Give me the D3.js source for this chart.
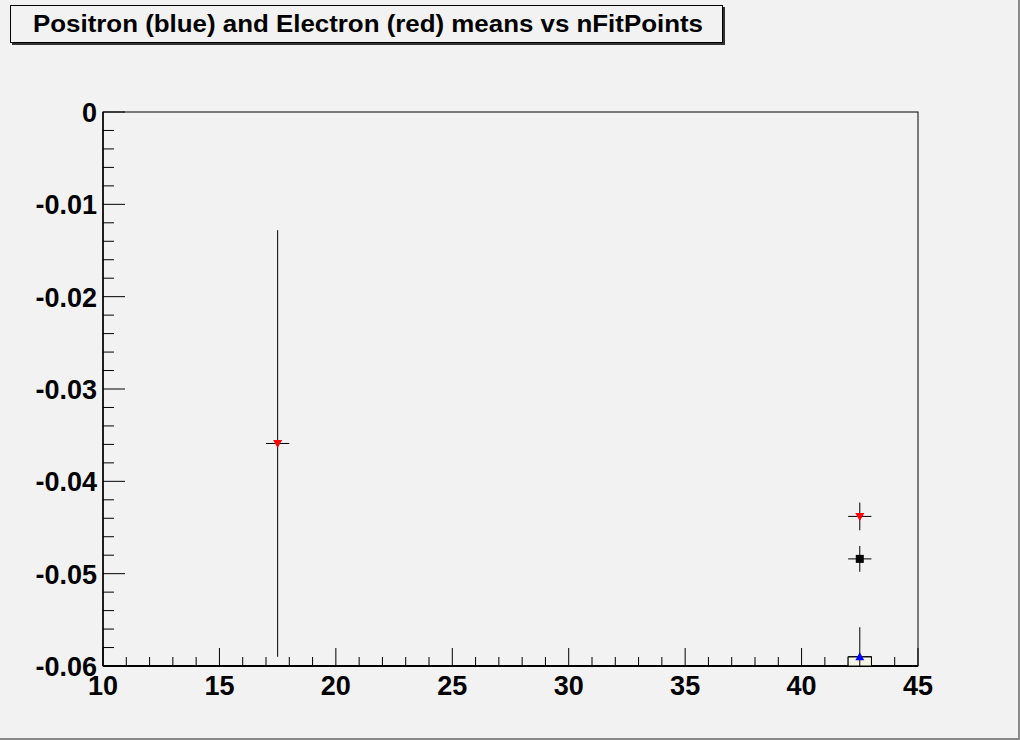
<!DOCTYPE html>
<html>
<head>
<meta charset="utf-8">
<script src="https://cdn.jsdelivr.net/npm/d3@7"></script>
<style>
  body { margin: 0; background: #f2f2f2; }
  svg { display: block; }
  text { font-family: "Liberation Sans", Arial, sans-serif; font-weight: bold; }
</style>
</head>
<body>
<div id="chart"></div>
<script>
// electron (red) means
const electronX = [17.5, 42.5];
const electronY = [-0.0359, -0.0438];
const electronErr = [0.0231, 0.0015];
// positron (blue) means
const positronX = [42.5];
const positronY = [-0.0590];
const positronErr = [0.0032];
// combined (black)
const combinedX = [42.5];
const combinedY = [-0.0484];
const combinedErr = [0.0014];
const xErr = 0.5;

const xTicks = [10, 15, 20, 25, 30, 35, 40, 45];
const yTicks = [0, -0.01, -0.02, -0.03, -0.04, -0.05, -0.06];

var svgwidth = 1020;
var svgheight = 740;
var padL = 103, padT = 112, padR = 918, padB = 666;

var svg = d3.select('#chart')
    .append('svg')
    .attr('width', svgwidth)
    .attr('height', svgheight);

// canvas background + border
svg.append('rect').attr('width', svgwidth).attr('height', svgheight).attr('fill', '#f2f2f2');
svg.append('line').attr('x1', 1019).attr('x2', 1019).attr('y1', 0).attr('y2', 740).attr('stroke', '#8a8a8a').attr('stroke-width', 2);
svg.append('line').attr('x1', 0).attr('x2', 1020).attr('y1', 739).attr('y2', 739).attr('stroke', '#8a8a8a').attr('stroke-width', 2);

// title box
svg.append('rect').attr('x', 12).attr('y', 7).attr('width', 713).attr('height', 38).attr('fill', '#333');
svg.append('rect').attr('x', 10.5).attr('y', 5.5).attr('width', 712).attr('height', 37)
    .attr('fill', '#f2f2f2').attr('stroke', '#000').attr('stroke-width', 1);
svg.append('text')
    .attr('x', 33).attr('y', 32)
    .attr('textLength', 670)
    .attr('lengthAdjust', 'spacingAndGlyphs')
    .style('font-size', '23px')
    .text('Positron (blue) and Electron (red) means vs nFitPoints');

var xscale = d3.scaleLinear().domain([10, 45]).range([padL, padR]);
var yscale = d3.scaleLinear().domain([-0.06, 0]).range([padB, padT]);

var g = svg.append('g');

// frame
g.append('rect')
    .attr('x', padL).attr('y', padT)
    .attr('width', padR - padL).attr('height', padB - padT)
    .attr('fill', 'none').attr('stroke', '#000').attr('stroke-width', 1);

// x axis ticks (drawn inward)
var xMinor = d3.range(10, 45.01, 1);
g.append('g').selectAll('line')
    .data(xMinor)
    .join('line')
    .attr('x1', d => xscale(d)).attr('x2', d => xscale(d))
    .attr('y1', padB)
    .attr('y2', d => padB - (xTicks.includes(d) ? 18 : 9))
    .attr('stroke', '#000');
g.append('line').attr('x1', padL).attr('x2', padR).attr('y1', padB).attr('y2', padB)
    .attr('stroke', '#000').attr('stroke-width', 2);
g.append('g').selectAll('text')
    .data(xTicks)
    .join('text')
    .attr('x', d => xscale(d))
    .attr('y', 695)
    .attr('text-anchor', 'middle')
    .style('font-size', '27px')
    .text(d => d);

// y axis ticks
var yMinor = d3.range(0, 31).map(i => -i * 0.002);
g.append('g').selectAll('line')
    .data(yMinor)
    .join('line')
    .attr('y1', d => yscale(d)).attr('y2', d => yscale(d))
    .attr('x1', padL)
    .attr('x2', (d, i) => padL + (i % 5 === 0 ? 22 : 11))
    .attr('stroke', '#000');
g.append('line').attr('x1', padL).attr('x2', padL).attr('y1', padT).attr('y2', padB)
    .attr('stroke', '#000').attr('stroke-width', 1.5);
g.append('g').selectAll('text')
    .data(yTicks)
    .join('text')
    .attr('x', 97)
    .attr('y', d => yscale(d) + 10)
    .attr('text-anchor', 'end')
    .style('font-size', '27px')
    .text(d => d === 0 ? '0' : d3.format('.2f')(d).replace('\u2212', '-'));

// clip for points
svg.append('clipPath').attr('id', 'frame')
    .append('rect').attr('x', padL).attr('y', padT).attr('width', padR - padL).attr('height', padB - padT);
var pts = svg.append('g').attr('clip-path', 'url(#frame)');

// box under blue point
pts.selectAll('rect.box')
    .data(positronX)
    .join('rect')
    .attr('class', 'box')
    .attr('x', d => xscale(d - xErr))
    .attr('y', (d, i) => yscale(positronY[i]))
    .attr('width', xscale(10 + 2 * xErr) - xscale(10))
    .attr('height', (d, i) => yscale(-0.06) - yscale(positronY[i]))
    .attr('fill', '#f5f5e6').attr('stroke', '#000');

function drawSeries(xs, ys, errs, color, shape) {
    var grp = pts.append('g');
    xs.forEach((x, i) => {
        grp.append('line')
            .attr('x1', xscale(x)).attr('x2', xscale(x))
            .attr('y1', yscale(ys[i] + errs[i])).attr('y2', yscale(ys[i] - errs[i]))
            .attr('stroke', '#000');
        grp.append('line')
            .attr('x1', xscale(x - xErr)).attr('x2', xscale(x + xErr))
            .attr('y1', yscale(ys[i])).attr('y2', yscale(ys[i]))
            .attr('stroke', '#000');
    });
    grp.selectAll('path')
        .data(xs)
        .join('path')
        .attr('transform', (d, i) => `translate(${xscale(d)},${yscale(ys[i])})`)
        .attr('d', shape)
        .attr('fill', color);
}

var triDown = 'M-4.5,-3.5L4.5,-3.5L0,4.5Z';
var triUp = 'M-4.5,3.5L4.5,3.5L0,-4.5Z';
var square = 'M-4,-4H4V4H-4Z';

drawSeries(combinedX, combinedY, combinedErr, '#000', square);
drawSeries(electronX, electronY, electronErr, '#ff0000', triDown);
drawSeries(positronX, positronY, positronErr, '#0000ff', triUp);
</script>
</body>
</html>
